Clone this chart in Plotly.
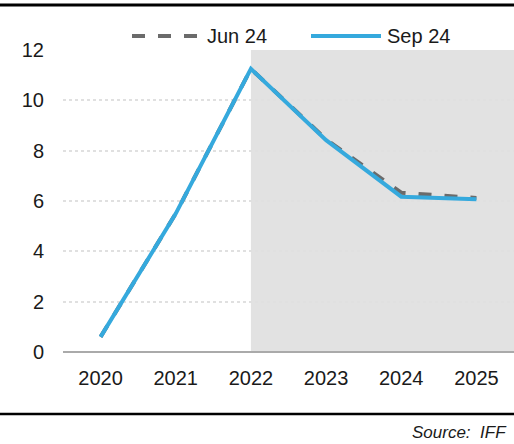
import plotly.graph_objects as go

years = ["2020", "2021", "2022", "2023", "2024", "2025"]
jun24 = [0.6, 5.5, 11.25, 8.45, 6.33, 6.12]
sep24 = [0.6, 5.5, 11.25, 8.42, 6.17, 6.07]
y_ticks = [0, 2, 4, 6, 8, 10, 12]

BLUE = "#35a9dd"
GRAY = "#6b6b6b"
FONT = "Liberation Sans"

fig = go.Figure()
fig.add_trace(go.Scatter(x=years, y=jun24, mode="lines", name="Jun 24",
                         line=dict(color=GRAY, width=4, dash="13px,13px"),
                         showlegend=False))
fig.add_trace(go.Scatter(x=years, y=sep24, mode="lines", name="Sep 24",
                         line=dict(color=BLUE, width=4),
                         showlegend=False))

L, R, T, B = 63, 0, 50, 92
W, H = 514, 444
pw = W - L - R
ph = H - T - B

def px(x):
    return (x - L) / pw

def py(y):
    return (H - B - y) / ph

shapes = [
    # forecast shading
    dict(type="rect", xref="x", yref="y", x0=2, x1=5.5, y0=0, y1=12,
         fillcolor="#e2e2e2", line=dict(width=0), layer="below"),
    # top rule
    dict(type="line", xref="paper", yref="paper", x0=px(0), x1=px(W),
         y0=py(5), y1=py(5), line=dict(color="black", width=3)),
    # bottom rule
    dict(type="line", xref="paper", yref="paper", x0=px(0), x1=px(W),
         y0=py(414), y1=py(414), line=dict(color="black", width=2.5)),
    # legend symbols
    dict(type="line", xref="paper", yref="paper", x0=px(132), x1=px(200),
         y0=py(36), y1=py(36), line=dict(color=GRAY, width=4, dash="13px,13px")),
    dict(type="line", xref="paper", yref="paper", x0=px(311), x1=px(381),
         y0=py(36), y1=py(36), line=dict(color=BLUE, width=4)),
]

annotations = [
    dict(xref="paper", yref="paper", x=px(205), y=py(36), text="Jun 24",
         showarrow=False, xanchor="left", yanchor="middle",
         font=dict(family=FONT, size=20, color="#1a1a1a")),
    dict(xref="paper", yref="paper", x=px(385), y=py(36), text="Sep 24",
         showarrow=False, xanchor="left", yanchor="middle",
         font=dict(family=FONT, size=20, color="#1a1a1a")),
    dict(xref="paper", yref="paper", x=px(508), y=py(443), text="<i>Source:  IFF</i>",
         showarrow=False, xanchor="right", yanchor="bottom", borderpad=0,
         font=dict(family=FONT, size=17, color="#1a1a1a")),
]

fig.update_layout(
    width=W, height=H,
    margin=dict(l=L, r=R, t=T, b=B, pad=0),
    paper_bgcolor="white", plot_bgcolor="rgba(0,0,0,0)",
    font=dict(family=FONT, size=20, color="#1a1a1a"),
    shapes=shapes, annotations=annotations,
    showlegend=False,
    xaxis=dict(type="category", range=[-0.5, 5.5], showgrid=False,
               showline=False, zeroline=False, ticks="", ticklabelstandoff=12,
               tickfont=dict(family=FONT, size=20, color="#1a1a1a")),
    yaxis=dict(range=[0, 12], tickvals=y_ticks, showgrid=True,
               gridcolor="#e0e0e0", griddash="dot", gridwidth=1.5,
               zeroline=True, zerolinecolor="#aaaaaa", zerolinewidth=2,
               showline=False, ticks="", ticklabelstandoff=18,
               tickfont=dict(family=FONT, size=20, color="#1a1a1a")),
)

fig.write_html("out.html")
